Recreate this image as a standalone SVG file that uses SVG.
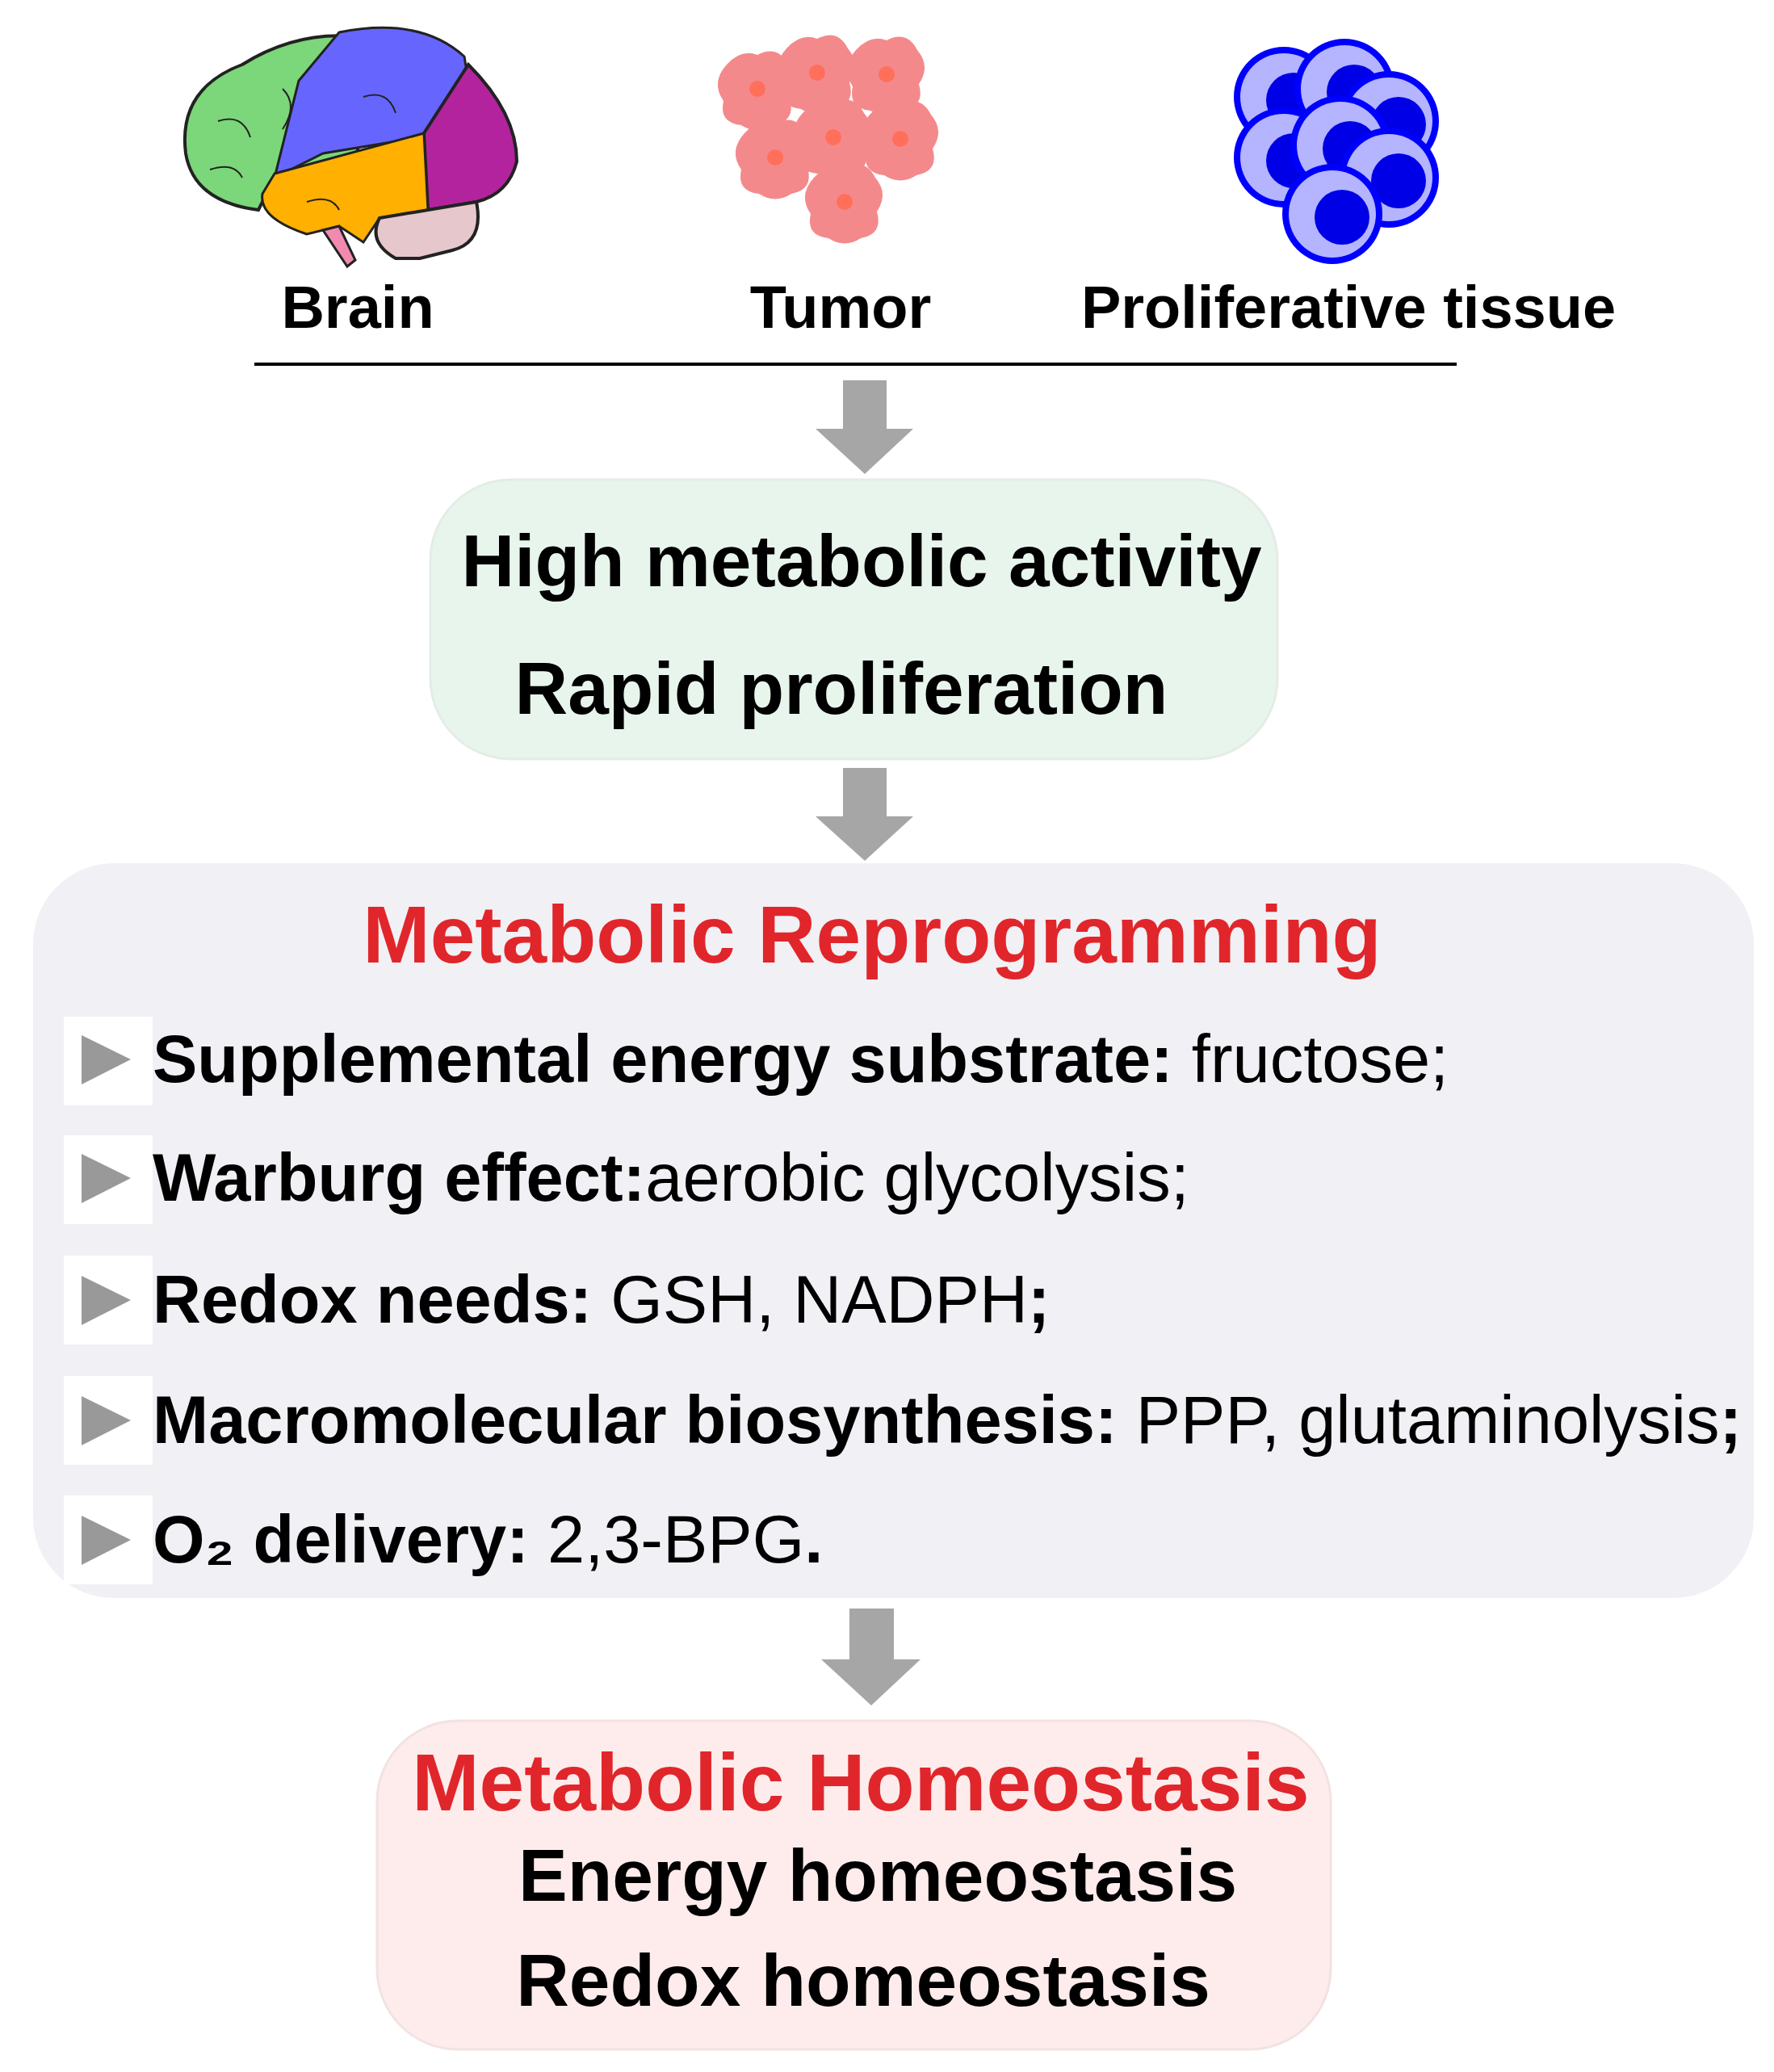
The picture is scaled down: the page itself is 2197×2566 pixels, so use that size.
<svg xmlns="http://www.w3.org/2000/svg" width="2197" height="2566" viewBox="0 0 2197 2566">
<style>
.b{font-family:"Liberation Sans",Arial,sans-serif;font-weight:bold;fill:#000}
.n{font-family:"Liberation Sans",Arial,sans-serif;font-weight:normal}
.red{fill:#e0262b}
.arrow{fill:#a6a6a6}
.bul{fill:#fff}
.tri{fill:#999}
</style>
<defs>
<path id="cell" d="M-38,-30 Q-20,-50 0,-42 Q25,-55 38,-30 Q55,-10 40,12 Q48,40 20,45 Q0,58 -20,45 Q-48,42 -42,15 Q-58,-8 -38,-30Z" fill="#f4898c"/>
<g id="pcell"><circle r="62" fill="#0000ff"/><circle r="54" fill="#b4b4ff"/><circle cx="12" cy="4" r="34" fill="#0000e6"/></g>
</defs>
<rect width="2197" height="2566" fill="#fff"/>
<g id="brain">
<path d="M300,80 Q380,30 470,50 L440,200 L330,240 L320,260 Q240,250 230,190 Q220,110 300,80Z" fill="#7cd67a" stroke="#222" stroke-width="4"/>
<path d="M420,40 Q520,20 575,70 L580,100 L540,150 L520,170 L400,190 L340,220 L370,100Z" fill="#6666ff" stroke="#222" stroke-width="3"/>
<path d="M580,80 Q640,140 640,200 Q630,240 590,250 L530,260 L525,165Z" fill="#b4239e" stroke="#222" stroke-width="4"/>
<path d="M340,215 L525,165 L530,260 L470,270 L450,300 L420,280 L380,290 Q320,270 325,240Z" fill="#ffb000" stroke="#222" stroke-width="3"/>
<path d="M470,270 L590,250 Q600,300 560,310 L520,320 L490,320 Q455,300 470,270Z" fill="#e6c8cc" stroke="#222" stroke-width="4"/>
<path d="M400,285 L420,280 L440,322 L430,330Z" fill="#f08ab0" stroke="#222" stroke-width="3"/>
<path d="M270,150 Q300,140 310,170 M350,110 Q370,130 350,160 M260,210 Q290,200 300,220 M450,120 Q480,110 490,140 M380,250 Q410,240 420,260" fill="none" stroke="#222" stroke-width="2"/>
</g>
<g id="tumor">
<use href="#cell" x="938" y="110"/><use href="#cell" x="1012" y="90"/><use href="#cell" x="1098" y="92"/>
<use href="#cell" x="960" y="195"/><use href="#cell" x="1032" y="170"/><use href="#cell" x="1115" y="172"/>
<use href="#cell" x="1046" y="250"/>
<g fill="#ff6f5a"><circle cx="938" cy="110" r="10"/><circle cx="1012" cy="90" r="10"/><circle cx="1098" cy="92" r="10"/><circle cx="960" cy="195" r="10"/><circle cx="1032" cy="170" r="10"/><circle cx="1115" cy="172" r="10"/><circle cx="1046" cy="250" r="10"/></g>
</g>
<g id="tissue">
<use href="#pcell" x="1590" y="120"/><use href="#pcell" x="1665" y="110"/><use href="#pcell" x="1720" y="150"/>
<use href="#pcell" x="1590" y="195"/><use href="#pcell" x="1660" y="180"/><use href="#pcell" x="1720" y="220"/>
<use href="#pcell" x="1650" y="265"/>
</g>
<g id="labels">
<text class="b" x="443" y="406" font-size="74" text-anchor="middle">Brain</text>
<text class="b" x="1041" y="406" font-size="74" text-anchor="middle">Tumor</text>
<text class="b" x="1670" y="406" font-size="74" text-anchor="middle">Proliferative tissue</text>
<line x1="315" y1="451" x2="1804" y2="451" stroke="#000" stroke-width="4"/>
</g>
<g id="connectors">
<path class="arrow" d="M1044,471 H1098 V531 H1131 L1071,587 L1010,531 H1044Z"/>
<path class="arrow" d="M1044,951 H1098 V1011 H1131 L1071,1066 L1010,1011 H1044Z"/>
<path class="arrow" d="M1052,1992 H1107 V2055 H1140 L1079,2112 L1017,2055 H1052Z"/>
</g>
<g id="node-activity">
<rect x="533" y="594" width="1049" height="346" rx="100" fill="#e8f5ec" stroke="#e4ece6" stroke-width="3"/>
<text class="b" x="1067" y="726" font-size="91" text-anchor="middle">High metabolic activity</text>
<text class="b" x="1042" y="884" font-size="91" text-anchor="middle">Rapid proliferation</text>
</g>
<g id="node-reprogramming">
<rect x="41" y="1069" width="2131" height="910" rx="100" fill="#f1f0f5"/>
<text class="b red" x="1080" y="1192" font-size="100" text-anchor="middle">Metabolic Reprogramming</text>
<g font-size="83">
<rect class="bul" x="79" y="1259" width="110" height="110"/><path class="tri" d="M101,1282 L162,1312 L101,1343Z"/>
<text class="b" x="189" y="1340">Supplemental energy substrate: <tspan class="n">fructose;</tspan></text>
<rect class="bul" x="79" y="1406" width="110" height="110"/><path class="tri" d="M101,1429 L162,1459 L101,1490Z"/>
<text class="b" x="189" y="1487">Warburg effect:<tspan class="n">aerobic glycolysis;</tspan></text>
<rect class="bul" x="79" y="1555" width="110" height="110"/><path class="tri" d="M101,1580 L162,1610 L101,1641Z"/>
<text class="b" x="189" y="1638">Redox needs: <tspan class="n">GSH, NADPH</tspan>;</text>
<rect class="bul" x="79" y="1704" width="110" height="110"/><path class="tri" d="M101,1729 L162,1759 L101,1790Z"/>
<text class="b" x="189" y="1787">Macromolecular biosynthesis: <tspan class="n">PPP, glutaminolysis</tspan>;</text>
<rect class="bul" x="79" y="1852" width="110" height="110"/><path class="tri" d="M101,1877 L162,1907 L101,1938Z"/>
<text class="b" x="189" y="1935">O₂ delivery: <tspan class="n">2,3-BPG</tspan>.</text>
</g>
</g>
<g id="node-homeostasis">
<rect x="467" y="2131" width="1181" height="407" rx="100" fill="#fdeceb" stroke="#f3e2e2" stroke-width="3"/>
<text class="b red" x="1066" y="2242" font-size="100" text-anchor="middle">Metabolic Homeostasis</text>
<text class="b" x="1087" y="2354" font-size="91" text-anchor="middle">Energy homeostasis</text>
<text class="b" x="1069" y="2484" font-size="91" text-anchor="middle">Redox homeostasis</text>
</g>
</svg>
